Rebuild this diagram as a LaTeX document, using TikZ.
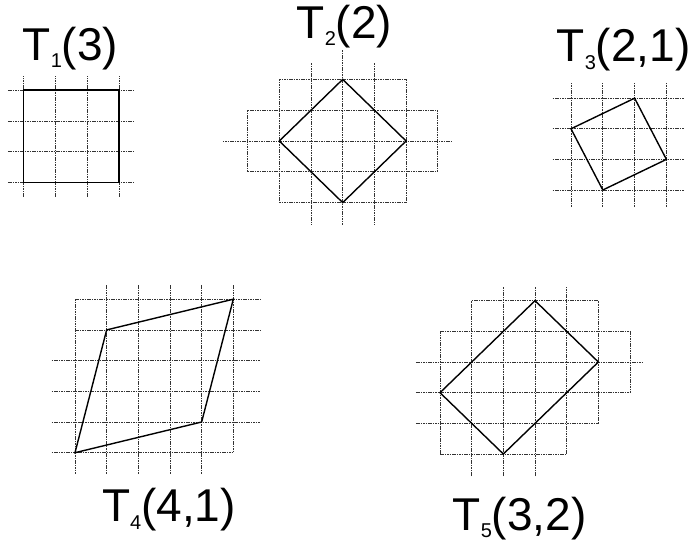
\documentclass[tikz,border=0pt]{standalone}
\usepackage{fontspec}
\setmainfont{Liberation Sans}
\newcommand\mylab[2]{T\raisebox{-7.5pt}{\fontsize{20}{22}\selectfont #1}#2}
\begin{document}
\begin{tikzpicture}[x=1pt,y=-1pt,
  gridline/.style={draw=black!80, line width=0.7pt, dash pattern=on 1.6pt off 0.8pt},
  shapeline/.style={draw=black, line width=1.4pt, line join=miter},
  lab/.style={anchor=base west, inner sep=0pt, font=\fontsize{46}{52}\selectfont}]
\useasboundingbox (0,0) rectangle (690,543);

% ---------- T1(3)
\begin{scope}[shift={(23.3pt,-182.7pt)}, x=31.9pt, y=30.9pt]
  \foreach \i in {0,...,3} {
    \draw[gridline] (-0.48,\i) -- (3.5,\i);
    \draw[gridline] (\i,-0.46) -- (\i,3.45);
  }
  \coordinate (a1) at (0,0); \coordinate (a2) at (3,0);
  \coordinate (a3) at (3,3); \coordinate (a4) at (0,3);
  \draw[shapeline] (a1) -- (a2) -- (a3) -- (a4) -- cycle;
\end{scope}
\node[lab] (l1) at (22.5,60) {\mylab{1}{(3)}};

% ---------- T2(2)
\begin{scope}[shift={(342.7pt,-141pt)}, x=31.7pt, y=30.8pt]
  \draw[gridline] (-3.78,0) -- (3.42,0);
  \foreach \j in {-1,1} \draw[gridline] (-3,\j) -- (3,\j);
  \foreach \j in {-2,2} \draw[gridline] (-2,\j) -- (2,\j);
  \draw[gridline] (0,2.95) -- (0,-2.73);
  \foreach \i in {-1,1} \draw[gridline] (\i,2.52) -- (\i,-2.73);
  \foreach \i in {-2,2} \draw[gridline] (\i,2) -- (\i,-2);
  \foreach \i in {-3,3} \draw[gridline] (\i,1) -- (\i,-1);
  \coordinate (b1) at (0,2); \coordinate (b2) at (2,0);
  \coordinate (b3) at (0,-2); \coordinate (b4) at (-2,0);
  \draw[shapeline] (b1) -- (b2) -- (b3) -- (b4) -- cycle;
\end{scope}
\node[lab] (l2) at (296.5,38.3) {\mylab{2}{(2)}};

% ---------- T3(2,1)
\begin{scope}[shift={(571pt,-190pt)}, x=31.8pt, y=30.6pt]
  \foreach \i in {0,...,3} {
    \draw[gridline] (-0.58,\i) -- (3.55,\i);
    \draw[gridline] (\i,-0.55) -- (\i,3.52);
  }
  \coordinate (c1) at (1,0); \coordinate (c2) at (3,1);
  \coordinate (c3) at (2,3); \coordinate (c4) at (0,2);
  \draw[shapeline] (c1) -- (c2) -- (c3) -- (c4) -- cycle;
\end{scope}
\node[lab] (l3) at (556.5,61.7) {\mylab{3}{(2,1)}};

% ---------- T4(4,1)
\begin{scope}[shift={(75pt,-452.7pt)}, x=31.66pt, y=30.7pt]
  \foreach \j in {4,5} \draw[gridline] (0,\j) -- (5.84,\j);
  \foreach \j in {1,2,3} \draw[gridline] (-0.74,\j) -- (5.84,\j);
  \draw[gridline] (-0.74,0) -- (5,0);
  \draw[gridline] (0,5) -- (0,-0.7);
  \foreach \i in {1,...,4} \draw[gridline] (\i,5.46) -- (\i,-0.7);
  \draw[gridline] (5,5.46) -- (5,0);
  \coordinate (d1) at (0,0); \coordinate (d2) at (4,1);
  \coordinate (d3) at (5,5); \coordinate (d4) at (1,4);
  \draw[shapeline] (d1) -- (d2) -- (d3) -- (d4) -- cycle;
\end{scope}
\node[lab] (l4) at (101.8,521.7) {\mylab{4}{(4,1)}};

% ---------- T5(3,2)
\begin{scope}[shift={(440pt,-454pt)}, x=31.67pt, y=30.66pt]
  \draw[gridline] (1,5) -- (5,5);
  \draw[gridline] (0,4) -- (6,4);
  \draw[gridline] (-0.76,3) -- (6.41,3);
  \draw[gridline] (-0.76,2) -- (6,2);
  \draw[gridline] (-0.76,1) -- (5,1);
  \draw[gridline] (0,0) -- (4,0);
  \draw[gridline] (0,0) -- (0,4);
  \draw[gridline] (1,-0.72) -- (1,5);
  \foreach \i in {2,3} \draw[gridline] (\i,-0.72) -- (\i,5.46);
  \draw[gridline] (4,0) -- (4,5.46);
  \draw[gridline] (5,1) -- (5,5);
  \draw[gridline] (6,2) -- (6,4);
  \coordinate (e1) at (2,0); \coordinate (e2) at (5,3);
  \coordinate (e3) at (3,5); \coordinate (e4) at (0,2);
  \draw[shapeline] (e1) -- (e2) -- (e3) -- (e4) -- cycle;
\end{scope}
\node[lab] (l5) at (452.5,530) {\mylab{5}{(3,2)}};
\end{tikzpicture}
\end{document}
